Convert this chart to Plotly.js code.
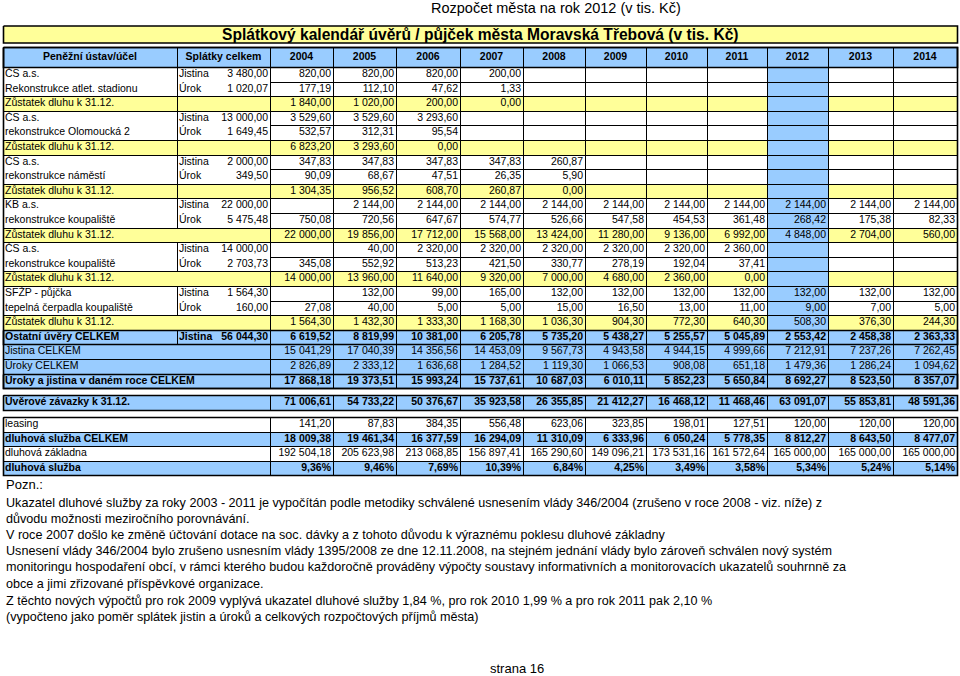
<!DOCTYPE html>
<html><head><meta charset="utf-8">
<script src="https://cdn.plot.ly/plotly-3.0.1.min.js"></script>
<style>html,body{margin:0;padding:0;background:#fff;}#chart{width:960px;height:676px;}</style>
</head><body><div id="chart"></div>
<script>
// ================= DATA =================
const years = ['2004','2005','2006','2007','2008','2009','2010','2011','2012','2013','2014'];
const lenders = ['ČS a.s.','ČS a.s.','ČS a.s.','KB a.s.','ČS a.s.','SFŽP - půjčka'];
const purposes = ['Rekonstrukce atlet. stadionu','rekonstrukce Olomoucká 2','rekonstrukce náměstí','rekonstrukce koupaliště','rekonstrukce koupaliště','tepelná čerpadla koupaliště'];
const principalTotals = [3480.00, 13000.00, 2000.00, 22000.00, 14000.00, 1564.30];
const interestTotals = [1020.07, 1649.45, 349.50, 5475.48, 2703.73, 160.00];
const N = null;
const stadionPrincipal = [820.00, 820.00, 820.00, 200.00, N, N, N, N, N, N, N];
const stadionInterest = [177.19, 112.10, 47.62, 1.33, N, N, N, N, N, N, N];
const stadionBalance = [1840.00, 1020.00, 200.00, 0.00, N, N, N, N, N, N, N];
const olomouckaPrincipal = [3529.60, 3529.60, 3293.60, N, N, N, N, N, N, N, N];
const olomouckaInterest = [532.57, 312.31, 95.54, N, N, N, N, N, N, N, N];
const olomouckaBalance = [6823.20, 3293.60, 0.00, N, N, N, N, N, N, N, N];
const namestiPrincipal = [347.83, 347.83, 347.83, 347.83, 260.87, N, N, N, N, N, N];
const namestiInterest = [90.09, 68.67, 47.51, 26.35, 5.90, N, N, N, N, N, N];
const namestiBalance = [1304.35, 956.52, 608.70, 260.87, 0.00, N, N, N, N, N, N];
const kbPoolPrincipal = [N, 2144.00, 2144.00, 2144.00, 2144.00, 2144.00, 2144.00, 2144.00, 2144.00, 2144.00, 2144.00];
const kbPoolInterest = [750.08, 720.56, 647.67, 574.77, 526.66, 547.58, 454.53, 361.48, 268.42, 175.38, 82.33];
const kbPoolBalance = [22000.00, 19856.00, 17712.00, 15568.00, 13424.00, 11280.00, 9136.00, 6992.00, 4848.00, 2704.00, 560.00];
const csPoolPrincipal = [N, 40.00, 2320.00, 2320.00, 2320.00, 2320.00, 2320.00, 2360.00, N, N, N];
const csPoolInterest = [345.08, 552.92, 513.23, 421.50, 330.77, 278.19, 192.04, 37.41, N, N, N];
const csPoolBalance = [14000.00, 13960.00, 11640.00, 9320.00, 7000.00, 4680.00, 2360.00, 0.00, N, N, N];
const sfzpPrincipal = [N, 132.00, 99.00, 165.00, 132.00, 132.00, 132.00, 132.00, 132.00, 132.00, 132.00];
const sfzpInterest = [27.08, 40.00, 5.00, 5.00, 15.00, 16.50, 13.00, 11.00, 9.00, 7.00, 5.00];
const sfzpBalance = [1564.30, 1432.30, 1333.30, 1168.30, 1036.30, 904.30, 772.30, 640.30, 508.30, 376.30, 244.30];
const otherLoansPrincipalTotal = 56044.30;
const otherLoansByYear = [6619.52, 8819.99, 10381.00, 6205.78, 5735.20, 5438.27, 5255.57, 5045.89, 2553.42, 2458.38, 2363.33];
const principalByYear = [15041.29, 17040.39, 14356.56, 14453.09, 9567.73, 4943.58, 4944.15, 4999.66, 7212.91, 7237.26, 7262.45];
const interestByYear = [2826.89, 2333.12, 1636.68, 1284.52, 1119.30, 1066.53, 908.08, 651.18, 1479.36, 1286.24, 1094.62];
const paymentsByYear = [17868.18, 19373.51, 15993.24, 15737.61, 10687.03, 6010.11, 5852.23, 5650.84, 8692.27, 8523.50, 8357.07];
const debtAtYearEnd = [71006.61, 54733.22, 50376.67, 35923.58, 26355.85, 21412.27, 16468.12, 11468.46, 63091.07, 55853.81, 48591.36];
const leasingByYear = [141.20, 87.83, 384.35, 556.48, 623.06, 323.85, 198.01, 127.51, 120.00, 120.00, 120.00];
const debtServiceTotal = [18009.38, 19461.34, 16377.59, 16294.09, 11310.09, 6333.96, 6050.24, 5778.35, 8812.27, 8643.50, 8477.07];
const debtBase = [192504.18, 205623.98, 213068.85, 156897.41, 165290.60, 149096.21, 173531.16, 161572.64, 165000.00, 165000.00, 165000.00];
const debtServiceRatio = [9.36, 9.46, 7.69, 10.39, 6.84, 4.25, 3.49, 3.58, 5.34, 5.24, 5.14];

const pageTitle = 'Rozpočet města na rok 2012 (v tis. Kč)';
const tableTitle = 'Splátkový kalendář úvěrů / půjček města Moravská Třebová (v tis. Kč)';
const notes = [
 'Ukazatel dluhové služby za roky 2003 - 2011 je vypočítán podle metodiky schválené usnesením vlády 346/2004 (zrušeno v roce 2008 - viz. níže) z',
 'důvodu možnosti meziročního porovnávání.',
 'V roce 2007 došlo ke změně účtování dotace na soc. dávky a z tohoto důvodu k výraznému poklesu dluhové základny',
 'Usnesení vlády 346/2004 bylo zrušeno usnesním vlády 1395/2008 ze dne 12.11.2008, na stejném jednání vlády bylo zároveň schválen nový systém',
 'monitoringu hospodaření obcí, v rámci kterého budou každoročně prováděny výpočty soustavy informativních a monitorovacích ukazatelů souhrnně za',
 'obce a jimi zřizované příspěvkové organizace.',
 'Z těchto nových výpočtů pro rok 2009 vyplývá ukazatel dluhové služby 1,84 %, pro rok 2010 1,99 % a pro rok 2011 pak 2,10 %',
 '(vypočteno jako poměr splátek jistin a úroků a celkových rozpočtových příjmů města)'
];

// ================= LAYOUT GEOMETRY =================
const COLS = [3,177,222,270,333,396,460,523,585,646,707,767,828,893,957];
const NC = COLS.length - 1;
const Y12 = 3 + years.indexOf('2012');
const WHITE = 0, YELLOW = 1, BLUE = 2;
const TFONT = 'Liberation Sans, Arial, sans-serif';
const FS = 10.5;

function fmt(v){
  if (v === null || v === undefined) return '';
  const s = Math.abs(v).toFixed(2).split('.');
  const i = s[0].replace(/\B(?=(\d{3})+(?!\d))/g, ' ');
  return (v < 0 ? '-' : '') + i + ',' + s[1];
}

const model = [];
const rects = [];
const thick = [];
function addRow(top, bottom, fills, texts){ model.push({top:Math.round(top), bottom:Math.round(bottom), fills, texts}); return model.length-1; }
function fillRow(base, blueCol){ const f = new Array(NC).fill(base); if (blueCol !== undefined) f[blueCol] = BLUE; return f; }
function yearTexts(arr, bold, f){ return arr.map((v,j)=>({c0:3+j, c1:3+j, t:(f||fmt)(v), a:'r', b:bold})); }
function yearRects(r){ for (let j=0;j<years.length;j++) rects.push({c0:3+j,c1:3+j,r0:r,r1:r}); }

const rh = addRow(47, 67, fillRow(BLUE), [
  {c0:0,c1:0,t:'Peněžní ústav/účel',a:'c',b:true},
  {c0:1,c1:2,t:'Splátky celkem',a:'c',b:true}
].concat(years.map((y,j)=>({c0:3+j,c1:3+j,t:y,a:'c',b:true}))));
rects.push({c0:0,c1:0,r0:rh,r1:rh},{c0:1,c1:2,r0:rh,r1:rh}); yearRects(rh);

const RH = 14.6; let yc = 67;
const loans = [
  [stadionPrincipal, stadionInterest, stadionBalance, true],
  [olomouckaPrincipal, olomouckaInterest, olomouckaBalance, true],
  [namestiPrincipal, namestiInterest, namestiBalance, true],
  [kbPoolPrincipal, kbPoolInterest, kbPoolBalance, false],
  [csPoolPrincipal, csPoolInterest, csPoolBalance, false],
  [sfzpPrincipal, sfzpInterest, sfzpBalance, false]
];
loans.forEach((L, g) => {
  const ra = addRow(yc, yc+RH, fillRow(WHITE, Y12), [
    {c0:0,c1:0,t:lenders[g],a:'l'},{c0:1,c1:1,t:'Jistina',a:'l'},{c0:2,c1:2,t:fmt(principalTotals[g]),a:'r'}
  ].concat(yearTexts(L[0]))); yc += RH;
  const rb = addRow(yc, yc+RH, fillRow(WHITE, Y12), [
    {c0:0,c1:0,t:purposes[g],a:'l'},{c0:1,c1:1,t:'Úrok',a:'l'},{c0:2,c1:2,t:fmt(interestTotals[g]),a:'r'}
  ].concat(yearTexts(L[1]))); yc += RH;
  const rc = addRow(yc, yc+RH, fillRow(YELLOW, Y12), [
    {c0:0,c1:0,t:'Zůstatek dluhu k 31.12.',a:'l'}
  ].concat(yearTexts(L[2]))); yc += RH;
  rects.push({c0:0,c1:0,r0:ra,r1:rb},{c0:1,c1:2,r0:ra,r1:rb});
  yearRects(ra); yearRects(rb);
  if (L[3]) rects.push({c0:0,c1:0,r0:rc,r1:rc},{c0:1,c1:2,r0:rc,r1:rc}); else rects.push({c0:0,c1:2,r0:rc,r1:rc});
  yearRects(rc);
});
const ro = addRow(yc, yc+RH, fillRow(BLUE), [
  {c0:0,c1:0,t:'Ostatní úvěry CELKEM',a:'l',b:true},{c0:1,c1:1,t:'Jistina',a:'l',b:true},{c0:2,c1:2,t:fmt(otherLoansPrincipalTotal),a:'r',b:true}
].concat(yearTexts(otherLoansByYear, true))); yc += RH;
rects.push({c0:0,c1:0,r0:ro,r1:ro},{c0:1,c1:2,r0:ro,r1:ro}); yearRects(ro);
[['Jistina CELKEM', principalByYear, false], ['Úroky CELKEM', interestByYear, false], ['Úroky a jistina v daném roce CELKEM', paymentsByYear, true]].forEach(d => {
  const r = addRow(yc, yc+RH, fillRow(BLUE), [{c0:0,c1:2,t:d[0],a:'l',b:d[2]}].concat(yearTexts(d[1], d[2]))); yc += RH;
  rects.push({c0:0,c1:2,r0:r,r1:r}); yearRects(r);
  if (d[2]) thick.push({c0:0,c1:NC-1,r0:r,r1:r});
});
const mainLast = model.length - 1;
thick.push({c0:0,c1:NC-1,r0:rh,r1:rh},{c0:0,c1:NC-1,r0:rh,r1:mainLast},{c0:0,c1:NC-1,r0:ro,r1:ro});

const ru = addRow(395, 410, fillRow(BLUE), [{c0:0,c1:2,t:'Úvěrové závazky k 31.12.',a:'l',b:true}].concat(yearTexts(debtAtYearEnd, true)));
rects.push({c0:0,c1:2,r0:ru,r1:ru}); yearRects(ru); thick.push({c0:0,c1:NC-1,r0:ru,r1:ru});

let yl = 417; const lfirst = model.length;
[['leasing', leasingByYear, false, WHITE, fmt],
 ['dluhová služba CELKEM', debtServiceTotal, true, BLUE, fmt],
 ['dluhová základna', debtBase, false, WHITE, fmt],
 ['dluhová služba', debtServiceRatio, true, BLUE, v => fmt(v) + '%']].forEach(d => {
  const r = addRow(yl, yl+RH, fillRow(d[3]), [{c0:0,c1:2,t:d[0],a:'l',b:d[2]}].concat(yearTexts(d[1], d[2], d[4]))); yl += RH;
  rects.push({c0:0,c1:2,r0:r,r1:r}); yearRects(r);
});
thick.push({c0:0,c1:NC-1,r0:lfirst,r1:model.length-1});

// ================= TRACES =================
const traces = [];
const CSCALE = [[0,'#ffffff'],[0.5,'#ffff99'],[1,'#99ccff']];
traces.push({type:'heatmap', x:[COLS[0], COLS[NC]], y:[26, 43], z:[[YELLOW]], zmin:0, zmax:2, showscale:false, hoverinfo:'skip', colorscale:CSCALE});
const yEdges = [model[0].top]; const z = [];
model.forEach((row, k) => {
  if (k > 0 && row.top !== model[k-1].bottom) { yEdges.push(row.top); z.push(new Array(NC).fill(null)); }
  yEdges.push(row.bottom); z.push(row.fills);
});
traces.push({type:'heatmap', x:COLS, y:yEdges, z:z, zmin:0, zmax:2, showscale:false, hoverinfo:'skip', colorscale:CSCALE});
function outlines(list, extra){
  const xs=[], ys=[];
  list.forEach(r => {
    const x0 = COLS[r.c0]+0.5, x1 = COLS[r.c1+1]+0.5, y0 = model[r.r0].top+0.5, y1 = model[r.r1].bottom+0.5;
    xs.push(x0,x1,x1,x0,x0,null); ys.push(y0,y0,y1,y1,y0,null);
  });
  (extra||[]).forEach(b => { xs.push(b[0],b[1],b[1],b[0],b[0],null); ys.push(b[2],b[2],b[3],b[3],b[2],null); });
  return {xs, ys};
}
const thin = outlines(rects);
traces.push({type:'scatter', mode:'lines', x:thin.xs, y:thin.ys, line:{color:'#000', width:1}, hoverinfo:'skip'});
const th = outlines(thick, [[COLS[0]+0.5, COLS[NC]+0.5, 26, 43]]);
traces.push({type:'scatter', mode:'lines', x:th.xs, y:th.ys, line:{color:'#000', width:1.6}, hoverinfo:'skip'});
const groups = {};
model.forEach(row => {
  const ym = (row.top + row.bottom) / 2;
  row.texts.forEach(t => {
    if (t.t === '') return;
    const key = t.a + (t.b ? 'b' : 'n');
    if (!groups[key]) groups[key] = {x:[], y:[], text:[], a:t.a, b:!!t.b};
    const x = t.a === 'l' ? COLS[t.c0] + 2 : t.a === 'r' ? COLS[t.c1+1] - 2 : (COLS[t.c0] + COLS[t.c1+1]) / 2;
    groups[key].x.push(x); groups[key].y.push(ym); groups[key].text.push(t.t);
  });
});
Object.values(groups).forEach(g => {
  traces.push({type:'scatter', mode:'text', x:g.x, y:g.y, text:g.text, hoverinfo:'skip', cliponaxis:false,
    textposition: g.a === 'l' ? 'middle right' : g.a === 'r' ? 'middle left' : 'middle center',
    textfont:{family:TFONT, size:FS, color:'#000', weight: g.b ? 700 : 400}});
});

// ================= ANNOTATIONS =================
const ann = [];
ann.push({x:556, y:8, xref:'x', yref:'y', text:pageTitle, showarrow:false, xanchor:'center', yanchor:'middle', font:{family:TFONT, size:14.5, color:'#000'}});
ann.push({x:480, y:34.5, xref:'x', yref:'y', text:'<b>'+tableTitle+'</b>', showarrow:false, xanchor:'center', yanchor:'middle', font:{family:TFONT, size:15.6, color:'#000'}});
ann.push({x:4, y:484, xref:'x', yref:'y', text:'Pozn.:', showarrow:false, xanchor:'left', yanchor:'middle', font:{family:TFONT, size:13, color:'#000'}});
const noteY = [503, 519, 535, 551, 567, 584, 601, 617];
notes.forEach((t, i) => ann.push({x:4, y:noteY[i], xref:'x', yref:'y', text:t, showarrow:false, xanchor:'left', yanchor:'middle', font:{family:TFONT, size:12.6, color:'#000'}}));
ann.push({x:517, y:668, xref:'x', yref:'y', text:'strana 16', showarrow:false, xanchor:'center', yanchor:'middle', font:{family:TFONT, size:13, color:'#000'}});

const layout = {
  width:960, height:676, autosize:false, margin:{l:0,r:0,t:0,b:0,pad:0},
  paper_bgcolor:'#ffffff', plot_bgcolor:'#ffffff', showlegend:false,
  xaxis:{range:[0,960], visible:false, fixedrange:true},
  yaxis:{range:[676,0], visible:false, fixedrange:true},
  annotations: ann
};
Plotly.newPlot('chart', traces, layout, {staticPlot:true, displayModeBar:false});
</script></body></html>
